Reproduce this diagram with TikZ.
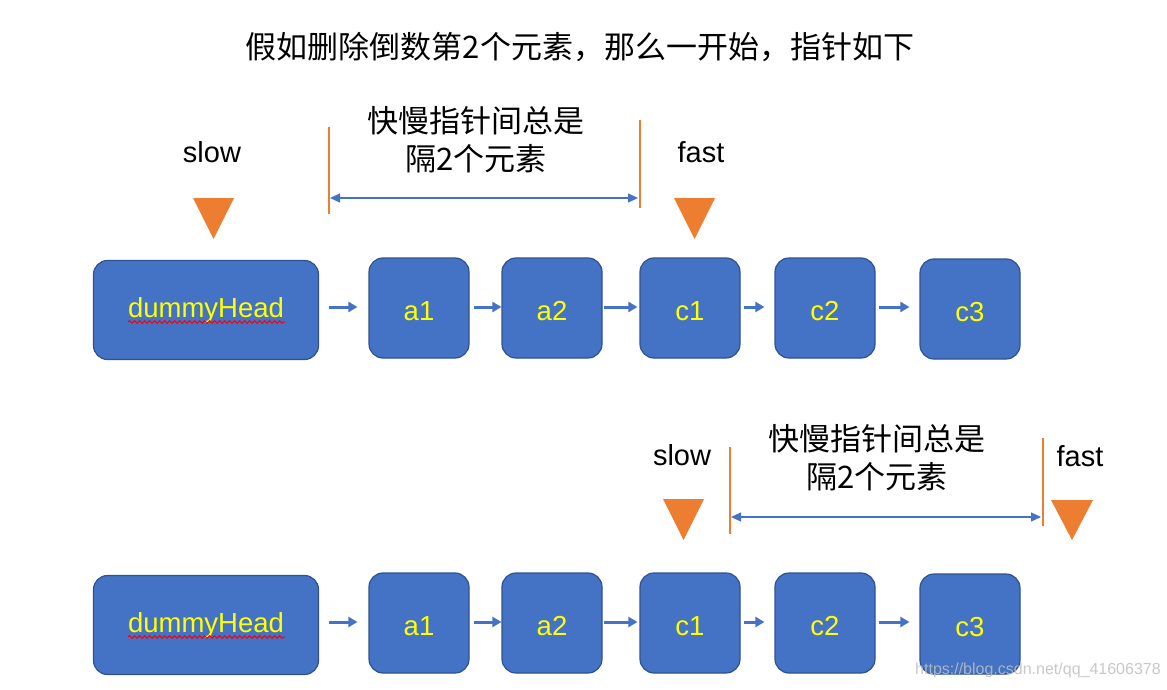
\documentclass[tikz,border=0pt]{standalone}
\usepackage{fontspec}
\setmainfont{Liberation Sans}
\newfontfamily\cjk{Noto Sans CJK SC}
\usetikzlibrary{arrows.meta,decorations.pathmorphing}
\definecolor{boxblue}{HTML}{4472C4}
\definecolor{boxedge}{HTML}{2F528F}
\definecolor{ptrorange}{HTML}{ED7D31}
\definecolor{txtyellow}{HTML}{FFFF00}
\begin{document}
\begin{tikzpicture}[x=1pt,y=-1pt,
  listbox/.style={draw=boxedge, fill=boxblue, line width=1.2pt, rounded corners=14pt,
    text=txtyellow, font=\fontsize{27.5}{30}\selectfont, inner sep=0pt},
  headbox/.style={listbox, minimum width=225pt, minimum height=99pt},
  sbox/.style={listbox, minimum width=100pt, minimum height=100pt,
    text height=24pt, text depth=0pt},
  link/.style={draw=boxblue, line width=3pt, -{Triangle[length=9pt,width=10pt]}},
  gaparrow/.style={draw=boxblue, line width=1.2pt,
    {Triangle[length=10pt,width=9pt]}-{Triangle[length=10pt,width=9pt]}},
  obar/.style={draw=ptrorange, line width=1.5pt},
  ptrlbl/.style={font=\fontsize{29}{32}\selectfont, anchor=base},
  gaptext/.style={font=\cjk\fontsize{31}{38}\selectfont, align=center},
  wavy/.style={draw=red, line width=1pt, decorate,
    decoration={snake, amplitude=1.3pt, segment length=5pt}}
]
\fill[white] (0,0) rectangle (1167,690);

% title
\node[font=\cjk\fontsize{31}{36}\selectfont] (title) at (580,47)
  {假如删除倒数第2个元素，那么一开始，指针如下};

% ---------- top row ----------
\node[headbox] (d1) at (206,310) {dummyHead};
\node[sbox] (a1) at (419,308) {a1};
\node[sbox] (a2) at (552,308) {a2};
\node[sbox] (c1) at (690,308) {c1};
\node[sbox] (c2) at (825,308) {c2};
\node[sbox] (c3) at (970,309) {c3};
\draw[wavy] (128,322) -- (285,322);
\draw[link, shorten <=10pt, shorten >=11pt] (d1.east |- 0,307) -- (a1.west |- 0,307);
\draw[link, shorten <=4pt, shorten >=0pt] (a1.east |- 0,307) -- (a2.west |- 0,307);
\draw[link, shorten <=1pt, shorten >=2pt] (a2.east |- 0,307) -- (c1.west |- 0,307);
\draw[link, shorten <=3pt, shorten >=10pt] (c1.east |- 0,307) -- (c2.west |- 0,307);
\draw[link, shorten <=3pt, shorten >=10pt] (c2.east |- 0,307) -- (c3.west |- 0,307);

\node[ptrlbl] (s1) at (212,163) {slow};
\fill[ptrorange] (193,198) -- (234,198) -- (213.5,239) -- cycle;
\node[ptrlbl] (f1) at (701,163) {fast};
\fill[ptrorange] (674,198) -- (715,198) -- (694.5,239) -- cycle;

\coordinate (t1) at (329,127); \coordinate (b1) at (329,214);
\coordinate (t2) at (640,120); \coordinate (b2) at (640,208);
\draw[obar] (t1) -- (b1);
\draw[obar] (t2) -- (b2);
\coordinate (g1) at (330,198); \coordinate (g2) at (638,198);
\draw[gaparrow] (g1) -- (g2);
\node[gaptext] (n1) at (476,140) {快慢指针间总是\\隔2个元素};

% ---------- bottom row ----------
\node[headbox] (d2) at (206,625) {dummyHead};
\node[sbox] (a1b) at (419,623) {a1};
\node[sbox] (a2b) at (552,623) {a2};
\node[sbox] (c1b) at (690,623) {c1};
\node[sbox] (c2b) at (825,623) {c2};
\node[sbox] (c3b) at (970,624) {c3};
\draw[wavy] (128,637) -- (285,637);
\draw[link, shorten <=10pt, shorten >=11pt] (d2.east |- 0,622) -- (a1b.west |- 0,622);
\draw[link, shorten <=4pt, shorten >=0pt] (a1b.east |- 0,622) -- (a2b.west |- 0,622);
\draw[link, shorten <=1pt, shorten >=2pt] (a2b.east |- 0,622) -- (c1b.west |- 0,622);
\draw[link, shorten <=3pt, shorten >=10pt] (c1b.east |- 0,622) -- (c2b.west |- 0,622);
\draw[link, shorten <=3pt, shorten >=10pt] (c2b.east |- 0,622) -- (c3b.west |- 0,622);

\node[ptrlbl] (s2) at (682,465) {slow};
\fill[ptrorange] (663,499) -- (704,499) -- (683.5,540) -- cycle;
\node[ptrlbl] (f2) at (1080,466) {fast};
\fill[ptrorange] (1051,500) -- (1093,500) -- (1072,540) -- cycle;

\coordinate (t3) at (730,447); \coordinate (b3) at (730,534);
\coordinate (t4) at (1043,438); \coordinate (b4) at (1043,526);
\draw[obar] (t3) -- (b3);
\draw[obar] (t4) -- (b4);
\coordinate (g3) at (731,517); \coordinate (g4) at (1041,517);
\draw[gaparrow] (g3) -- (g4);
\node[gaptext] (n2) at (877,458) {快慢指针间总是\\隔2个元素};

% watermark
\node[anchor=base west, inner sep=0pt, font=\fontsize{16}{18}\selectfont,
  text=black!25, text opacity=0.85] (wm) at (915,674) {https://blog.csdn.net/qq\_41606378};
\end{tikzpicture}
\end{document}
